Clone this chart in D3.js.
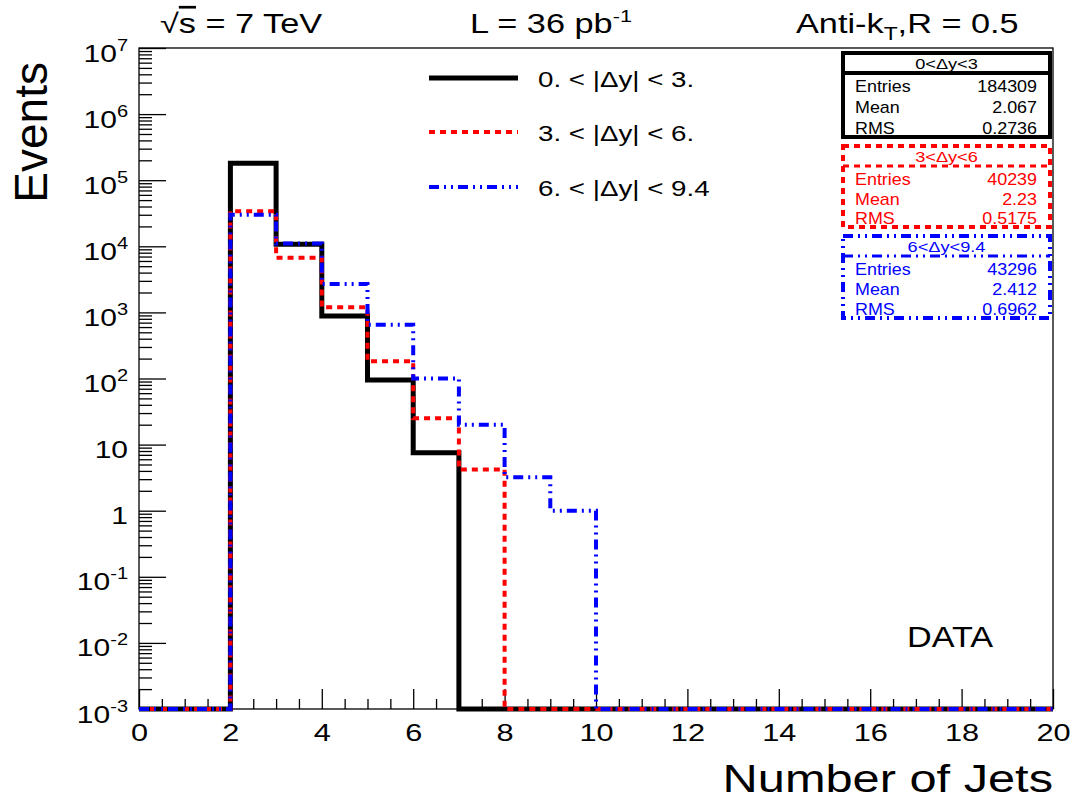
<!DOCTYPE html>
<html>
<head>
<meta charset="utf-8">
<title>Number of Jets</title>
<script src="https://cdn.jsdelivr.net/npm/d3@7"></script>
<style>
  body { margin: 0; background: #fff; }
  svg text { font-family: "Liberation Sans", Arial, Helvetica, sans-serif; }
  .axis path { display: none; }
  .axis line { stroke: #000; stroke-width: 1.3; }
</style>
</head>
<body>
<script>
// bin low edges (width 1) and event counts per bin
var binLow = [0,1,2,3,4,5,6,7,8,9,10,11,12,13,14,15,16,17,18,19];
var countsLow  = [0,0,180000,10700,880,95,7.5,0,0,0,0,0,0,0,0,0,0,0,0,0];   // 0<|dy|<3
var countsMid  = [0,0,34000,6700,1200,182,25,4.2,0,0,0,0,0,0,0,0,0,0,0,0];  // 3<|dy|<6
var countsHigh = [0,0,30000,11000,2700,650,100,20,3.2,1.0,0,0,0,0,0,0,0,0,0,0]; // 6<|dy|<9.4

var xTicks = [0,2,4,6,8,10,12,14,16,18,20];
var yExponents = [-3,-2,-1,0,1,2,3,4,5,6,7];

var legendLabels = ["0. < |\u0394y| < 3.", "3. < |\u0394y| < 6.", "6. < |\u0394y| < 9.4"];
var statTitles  = ["0<\u0394y<3", "3<\u0394y<6", "6<\u0394y<9.4"];
var statEntries = ["184309", "40239", "43296"];
var statMeans   = ["2.067", "2.23", "2.412"];
var statRMS     = ["0.2736", "0.5175", "0.6962"];

var colors = ["#000000", "#ff0000", "#0000ff"];
var dashes = [null, "6,5", "10,5,2,5,2,5"];
var widths = [5, 4, 4];

var width = 1080, height = 805;
var plotL = 139, plotR = 1053, plotT = 48, plotB = 709;

var svg = d3.select("body").append("svg")
  .attr("width", width).attr("height", height);

var x = d3.scaleLinear().domain([0, 20]).range([plotL, plotR]);
var y = d3.scaleLog().domain([1e-3, 1e7]).range([plotB, plotT]);

// stretched text helper
function txt(g, px, py, s, size, sx, anchor) {
  return g.append("text")
    .attr("transform", "translate(" + px + "," + py + ") scale(" + sx + ",1)")
    .attr("font-size", size)
    .attr("text-anchor", anchor || "start")
    .text(s);
}

// x axis: minor + major ticks
var xMinor = d3.range(0, 20.01, 0.5).filter(function(v){ return v % 2 !== 0; });
svg.append("g").attr("class", "axis")
  .attr("transform", "translate(0," + plotB + ")")
  .call(d3.axisBottom(x).tickValues(xMinor).tickSize(-10).tickFormat(""));
var gx = svg.append("g").attr("class", "axis")
  .attr("transform", "translate(0," + plotB + ")")
  .call(d3.axisBottom(x).tickValues(xTicks).tickSize(-20).tickPadding(0));
gx.selectAll("text")
  .attr("y", 32).attr("dy", null)
  .attr("font-size", 24)
  .attr("fill", "#000")
  .attr("transform", "scale(1.28,1)");

// y axis: minor + major ticks
var yMinor = [];
yExponents.slice(0, -1).forEach(function(e){
  for (var k = 2; k <= 9; k++) yMinor.push(k * Math.pow(10, e));
});
svg.append("g").attr("class", "axis")
  .attr("transform", "translate(" + plotL + ",0)")
  .call(d3.axisLeft(y).tickValues(yMinor).tickSize(-13).tickFormat(""));
var gy = svg.append("g").attr("class", "axis")
  .attr("transform", "translate(" + plotL + ",0)")
  .call(d3.axisLeft(y).tickValues(yExponents.map(function(e){ return Math.pow(10, e); }))
    .tickSize(-27).tickFormat(""));
gy.selectAll(".tick").each(function(d, i) {
  var e = yExponents[i];
  var t = d3.select(this).append("text")
    .attr("x", -11 / 1.25).attr("y", 13)
    .attr("text-anchor", "end")
    .attr("font-size", 24)
    .attr("fill", "#000")
    .attr("transform", "scale(1.25,1)");
  if (e === 0) t.text("1");
  else if (e === 1) t.text("10");
  else {
    t.append("tspan").text("10");
    t.append("tspan").attr("font-size", 16).attr("dy", -11).text(e);
  }
});

// frame
svg.append("rect")
  .attr("x", plotL).attr("y", plotT)
  .attr("width", plotR - plotL).attr("height", plotB - plotT)
  .attr("fill", "none").attr("stroke", "#000").attr("stroke-width", 1.3);

// histograms
var series = [countsLow, countsMid, countsHigh];
var line = d3.line()
  .x(function(d){ return x(d[0]); })
  .y(function(d){ return y(Math.max(d[1], 1e-3)); })
  .curve(d3.curveStepAfter);
series.forEach(function(counts, s) {
  var pts = binLow.map(function(b, i){ return [b, counts[i]]; });
  pts.push([20, counts[counts.length - 1]]);
  svg.append("path")
    .attr("d", line(pts))
    .attr("fill", "none")
    .attr("stroke", colors[s])
    .attr("stroke-width", widths[s])
    .attr("stroke-dasharray", dashes[s]);
});

// header
var h1 = txt(svg, 160, 33, "\u221A", 27, 1.27);
h1.append("tspan").attr("text-decoration", "overline").text("s");
h1.append("tspan").text(" = 7 TeV");
var h2 = txt(svg, 470, 33, "L = 36 pb", 27, 1.27);
h2.append("tspan").attr("font-size", 17).attr("dy", -11).text("-1");
var h3 = txt(svg, 796, 33, "Anti-k", 27, 1.27);
h3.append("tspan").attr("font-size", 18).attr("dy", 7).text("T");
h3.append("tspan").attr("dy", -7).text(",R = 0.5");

// axis titles
svg.append("text")
  .attr("transform", "translate(47,62) rotate(-90)")
  .attr("text-anchor", "end")
  .attr("font-size", 46)
  .text("Events");
txt(svg, plotR, 792, "Number of Jets", 39, 1.25, "end");

// legend
var legY = [78, 132, 187];
legendLabels.forEach(function(lab, i) {
  svg.append("line")
    .attr("x1", 429).attr("x2", 518).attr("y1", legY[i]).attr("y2", legY[i])
    .attr("stroke", colors[i]).attr("stroke-width", widths[i])
    .attr("stroke-dasharray", dashes[i]);
  txt(svg, 538, legY[i] + 9, lab, 22, 1.26);
});

// stat boxes
var boxTop = [53, 146, 236], boxBot = [137, 227, 318], boxSep = [73, 166, 256];
var bl = 843, br = 1050;
statTitles.forEach(function(title, i) {
  var g = svg.append("g");
  g.append("rect")
    .attr("x", bl).attr("y", boxTop[i])
    .attr("width", br - bl).attr("height", boxBot[i] - boxTop[i])
    .attr("fill", "#fff").attr("stroke", colors[i]).attr("stroke-width", 4)
    .attr("stroke-dasharray", dashes[i]);
  g.append("line")
    .attr("x1", bl).attr("x2", br).attr("y1", boxSep[i]).attr("y2", boxSep[i])
    .attr("stroke", colors[i]).attr("stroke-width", i === 0 ? 4 : 3)
    .attr("stroke-dasharray", dashes[i]);
  txt(g, (bl + br) / 2, boxSep[i] - 4, title, 14, 1.3, "middle").attr("fill", colors[i]);
  var rows = [["Entries", statEntries[i]], ["Mean", statMeans[i]], ["RMS", statRMS[i]]];
  var y0 = boxSep[i] + 19, dy = (boxBot[i] - boxSep[i] - 22) / 2;
  rows.forEach(function(r, k) {
    txt(g, 855, y0 + k * dy, r[0], 16, 1.12).attr("fill", colors[i]);
    txt(g, 1037, y0 + k * dy, r[1], 16, 1.12, "end").attr("fill", colors[i]);
  });
});

txt(svg, 907, 647, "DATA", 30, 1.14);
</script>
</body>
</html>
